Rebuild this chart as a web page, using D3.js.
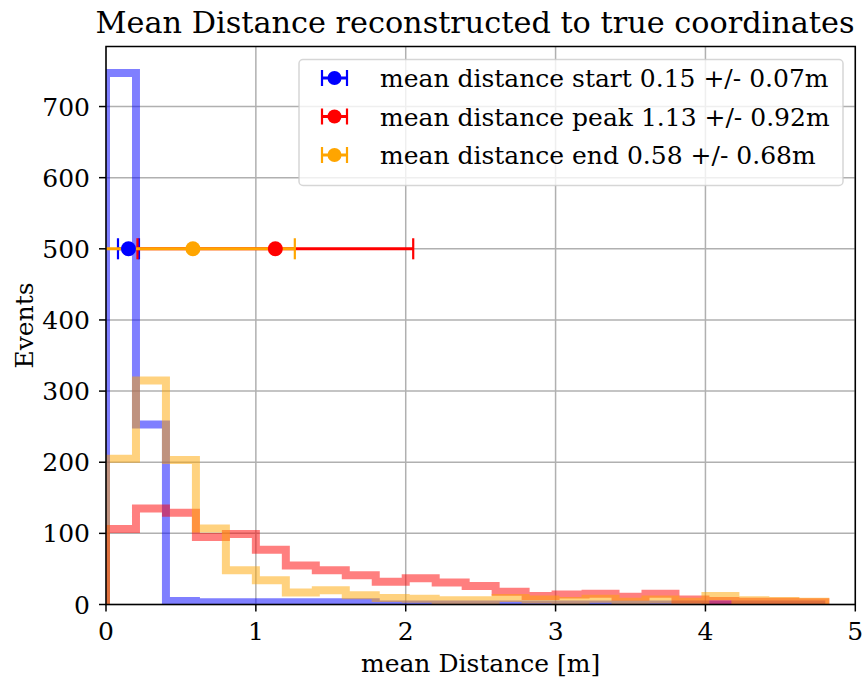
<!DOCTYPE html>
<html>
<head>
<meta charset="utf-8">
<script src="https://cdn.jsdelivr.net/npm/d3@7"></script>
<style>
  html, body { margin: 0; padding: 0; background: #fff; }
  svg { display: block; }
  text { font-family: "DejaVu Serif", serif; fill: #000; }
</style>
</head>
<body>
<div id="chart"></div>
<script>
// Histogram bin edges (0 to 4.8 m in 0.2 m steps)
const binEdges = [0, 0.2, 0.4, 0.6, 0.8, 1.0, 1.2, 1.4, 1.6, 1.8, 2.0, 2.2, 2.4,
                  2.6, 2.8, 3.0, 3.2, 3.4, 3.6, 3.8, 4.0, 4.2, 4.4, 4.6, 4.8];

// Event counts per bin
const countsStart = [747, 253, 5, 3, 3, 3, 3, 3, 3, 0, 0, 0,
                     0, 0, 0, 0, 0, 0, 0, 0, 0, 0, 0, 0];
const countsPeak  = [106, 135, 129, 95, 99, 77, 55, 48, 41, 32, 37, 31,
                     26, 18, 12, 14, 15, 11, 15, 7, 5, 4, 4, 3];
const countsEnd   = [205, 315, 203, 107, 48, 34, 17, 20, 13, 9, 8, 6,
                     6, 9, 7, 5, 8, 4, 7, 4, 12, 6, 5, 4];

// Mean and spread of each distance, drawn as error bars at y = 500
const seriesNames = ["start", "peak", "end"];
const seriesColors = ["blue", "red", "orange"];
const meanValues = [0.15, 1.13, 0.58];
const stdValues = [0.07, 0.92, 0.68];
const errorBarLevel = 500;

const xTicks = [0, 1, 2, 3, 4, 5];
const yTicks = [0, 100, 200, 300, 400, 500, 600, 700];

const W = 863, H = 677;
const plot = { left: 106, right: 855.3, top: 46.5, bottom: 604.5 };

const x = d3.scaleLinear().domain([0, 5]).range([plot.left, plot.right]);
const y = d3.scaleLinear().domain([0, 784.4]).range([plot.bottom, plot.top]);

const svg = d3.select("#chart").append("svg")
  .attr("width", W).attr("height", H);

svg.append("defs").append("clipPath").attr("id", "plotClip")
  .append("rect")
  .attr("x", plot.left).attr("y", plot.top)
  .attr("width", plot.right - plot.left).attr("height", plot.bottom - plot.top);

// Grid
const grid = svg.append("g").attr("stroke", "#b0b0b0").attr("stroke-width", 1.5);
grid.selectAll(".gx").data(xTicks).join("line")
  .attr("x1", d => x(d)).attr("x2", d => x(d))
  .attr("y1", plot.top).attr("y2", plot.bottom);
grid.selectAll(".gy").data(yTicks).join("line")
  .attr("x1", plot.left).attr("x2", plot.right)
  .attr("y1", d => y(d)).attr("y2", d => y(d));

// Step histograms
function stepPoints(counts) {
  const pts = [[binEdges[0], 0]];
  counts.forEach((c, i) => {
    pts.push([binEdges[i], c]);
    pts.push([binEdges[i + 1], c]);
  });
  pts.push([binEdges[binEdges.length - 1], 0]);
  return pts;
}
const stepLine = d3.line().x(d => x(d[0])).y(d => y(d[1]));
const histG = svg.append("g").attr("clip-path", "url(#plotClip)");
[countsStart, countsPeak, countsEnd].forEach((counts, i) => {
  histG.append("path")
    .attr("d", stepLine(stepPoints(counts)))
    .attr("fill", "none")
    .attr("stroke", seriesColors[i])
    .attr("stroke-opacity", 0.5)
    .attr("stroke-width", 8)
    .attr("stroke-linejoin", "miter")
    .attr("stroke-linecap", "butt");
});

// Error bars: all bars first, then the markers on top
const ebG = svg.append("g").attr("clip-path", "url(#plotClip)");
const capHalf = 10.5;
meanValues.forEach((m, i) => {
  const g = ebG.append("g").attr("stroke", seriesColors[i]);
  const yy = y(errorBarLevel);
  const lo = m - stdValues[i], hi = m + stdValues[i];
  g.append("line").attr("x1", x(lo)).attr("x2", x(hi)).attr("y1", yy).attr("y2", yy)
    .attr("stroke-width", 3);
  [lo, hi].forEach(v => {
    g.append("line").attr("x1", x(v)).attr("x2", x(v))
      .attr("y1", yy - capHalf).attr("y2", yy + capHalf).attr("stroke-width", 2.2);
  });
});
meanValues.forEach((m, i) => {
  ebG.append("circle").attr("cx", x(m)).attr("cy", y(errorBarLevel)).attr("r", 7.5)
    .attr("fill", seriesColors[i]);
});

// Axes frame
svg.append("rect")
  .attr("x", plot.left).attr("y", plot.top)
  .attr("width", plot.right - plot.left).attr("height", plot.bottom - plot.top)
  .attr("fill", "none").attr("stroke", "#000").attr("stroke-width", 1.5);

// Ticks and tick labels
const fs = 25;
const tickLen = 7;
const xt = svg.append("g");
xt.selectAll("line").data(xTicks).join("line")
  .attr("x1", d => x(d)).attr("x2", d => x(d))
  .attr("y1", plot.bottom).attr("y2", plot.bottom + tickLen)
  .attr("stroke", "#000").attr("stroke-width", 1.5);
xt.selectAll("text").data(xTicks).join("text")
  .attr("x", d => x(d)).attr("y", 639.5)
  .attr("text-anchor", "middle").attr("font-size", fs)
  .text(d => d3.format("d")(d));

const yt = svg.append("g");
yt.selectAll("line").data(yTicks).join("line")
  .attr("x1", plot.left - tickLen).attr("x2", plot.left)
  .attr("y1", d => y(d)).attr("y2", d => y(d))
  .attr("stroke", "#000").attr("stroke-width", 1.5);
yt.selectAll("text").data(yTicks).join("text")
  .attr("x", 90).attr("y", d => y(d) + 0.364 * fs)
  .attr("text-anchor", "end").attr("font-size", fs)
  .text(d => d3.format("d")(d));

// Titles
svg.append("text").attr("x", 475).attr("y", 33.3)
  .attr("text-anchor", "middle").attr("font-size", 30.3)
  .text("Mean Distance reconstructed to true coordinates");
svg.append("text").attr("x", (plot.left + plot.right) / 2).attr("y", 671.7)
  .attr("text-anchor", "middle").attr("font-size", fs)
  .text("mean Distance [m]");
svg.append("text")
  .attr("transform", `translate(33,${(plot.top + plot.bottom) / 2}) rotate(-90)`)
  .attr("text-anchor", "middle").attr("font-size", fs)
  .text("Events");

// Legend
const leg = svg.append("g");
leg.append("rect")
  .attr("x", 299).attr("y", 59.5).attr("width", 544).attr("height", 126)
  .attr("rx", 4).attr("ry", 4)
  .attr("fill", "#fff").attr("fill-opacity", 0.8)
  .attr("stroke", "#cccccc").attr("stroke-opacity", 0.8).attr("stroke-width", 1.5);
const rowY = [78, 116.5, 155];
const fmt = d3.format(".2f");
seriesNames.forEach((name, i) => {
  const cy = rowY[i];
  const g = leg.append("g");
  const hx = 334.5, half = 12.5;
  g.append("line").attr("x1", hx - half).attr("x2", hx + half).attr("y1", cy).attr("y2", cy)
    .attr("stroke", seriesColors[i]).attr("stroke-width", 3);
  [hx - half, hx + half].forEach(v => {
    g.append("line").attr("x1", v).attr("x2", v).attr("y1", cy - 8).attr("y2", cy + 8)
      .attr("stroke", seriesColors[i]).attr("stroke-width", 2.2);
  });
  g.append("circle").attr("cx", hx).attr("cy", cy).attr("r", 7).attr("fill", seriesColors[i]);
  g.append("text").attr("x", 380).attr("y", cy + 0.364 * fs)
    .attr("font-size", fs)
    .text(`mean distance ${name} ${fmt(meanValues[i])} +/- ${fmt(stdValues[i])}m`);
});
</script>
</body>
</html>
